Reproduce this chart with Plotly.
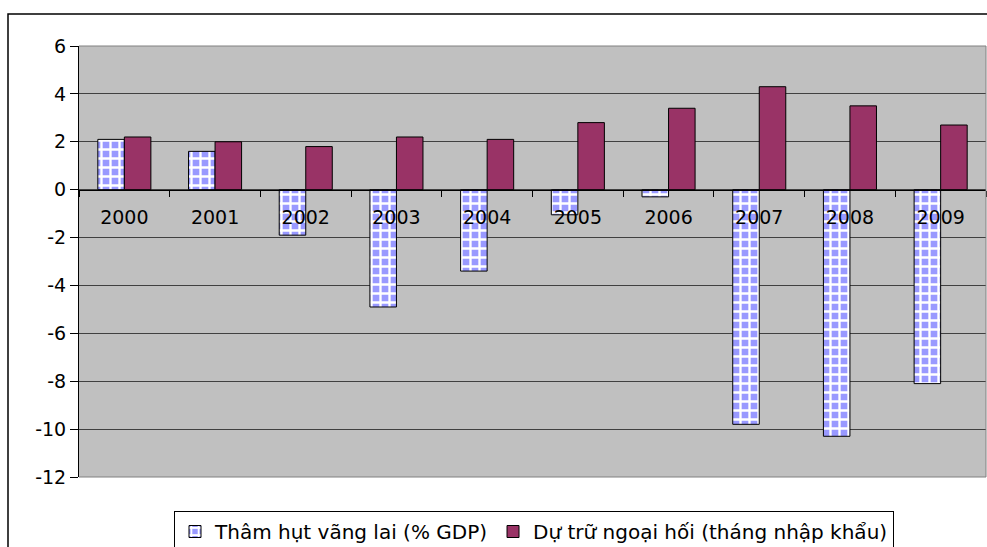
import plotly.graph_objects as go

# ---- data ----
years = ["2000", "2001", "2002", "2003", "2004", "2005", "2006", "2007", "2008", "2009"]
deficit = [2.1, 1.6, -1.9, -4.9, -3.4, -1.05, -0.3, -9.8, -10.3, -8.1]
reserves = [2.2, 2.0, 1.8, 2.2, 2.1, 2.8, 3.4, 4.3, 3.5, 2.7]
series_names = ["Thâm hụt vãng lai (% GDP)", "Dự trữ ngoại hối (tháng nhập khẩu)"]
y_tick_values = [-12, -10, -8, -6, -4, -2, 0, 2, 4, 6]
y_tick_labels = ["-12", "-10", "-8", "-6", "-4", "-2", "0", "2", "4", "6"]

W, H = 987, 547
L, R, T, B = 79, 1, 46, 70
pw, ph = W - L - R, H - T - B


def px_x(p):
    return (p - L) / pw


def px_y(p):
    return (H - B - p) / ph


fig = go.Figure()
fig.add_bar(
    x=years, y=deficit, name=series_names[0],
    marker=dict(
        color="#9999FF",
        line=dict(color="black", width=1),
        pattern=dict(shape="+", fgcolor="white", bgcolor="#9999FF",
                     size=9, solidity=0.45, fillmode="replace"),
    ),
)
fig.add_bar(
    x=years, y=reserves, name=series_names[1],
    marker=dict(color="#993366", line=dict(color="black", width=1)),
)

shapes = [
    # outer chart frame
    dict(type="rect", xref="paper", yref="paper",
         x0=px_x(8), x1=px_x(1010), y0=px_y(600), y1=px_y(14),
         line=dict(color="black", width=1.5), fillcolor="rgba(0,0,0,0)", layer="above"),
    # plot area border (grey)
    dict(type="line", xref="paper", yref="paper", x0=0, x1=1, y0=1, y1=1,
         line=dict(color="#808080", width=1), layer="above"),
    dict(type="line", xref="paper", yref="paper", x0=1, x1=1, y0=0, y1=1,
         line=dict(color="#808080", width=1), layer="above"),
    dict(type="line", xref="paper", yref="paper", x0=0, x1=1, y0=0, y1=0,
         line=dict(color="#808080", width=1), layer="above"),
]

fig.update_layout(
    width=W, height=H,
    margin=dict(l=L, r=R, t=T, b=B, autoexpand=False),
    paper_bgcolor="white",
    plot_bgcolor="#C0C0C0",
    barmode="group", bargap=0.415, bargroupgap=0,
    font=dict(family="DejaVu Sans", size=19, color="black"),
    showlegend=True,
    legend=dict(
        orientation="h", x=px_x(174), y=px_y(511), xanchor="left", yanchor="top",
        bgcolor="white", bordercolor="black", borderwidth=1,
        font=dict(size=20), traceorder="normal",
    ),
    shapes=shapes,
)

fig.update_xaxes(
    type="category", anchor="free", position=12 / 18, side="bottom",
    showline=True, linecolor="black", linewidth=1,
    ticks="outside", ticklen=6, tickcolor="black", tickwidth=1,
    tickson="boundaries", showgrid=False, zeroline=False,
    tickfont=dict(size=19), ticklabelstandoff=11,
)
fig.update_yaxes(
    range=[-12, 6], tickvals=y_tick_values, ticktext=y_tick_labels,
    showgrid=True, gridcolor="#404040", gridwidth=1, zeroline=False,
    showline=True, linecolor="black", linewidth=1,
    ticks="outside", ticklen=8, tickcolor="black", tickwidth=1,
    tickfont=dict(size=19),
)

fig.write_html(
    "out.html",
    config={"displayModeBar": False},
    post_script="document.body.style.margin='0';document.body.style.overflow='hidden';",
)
